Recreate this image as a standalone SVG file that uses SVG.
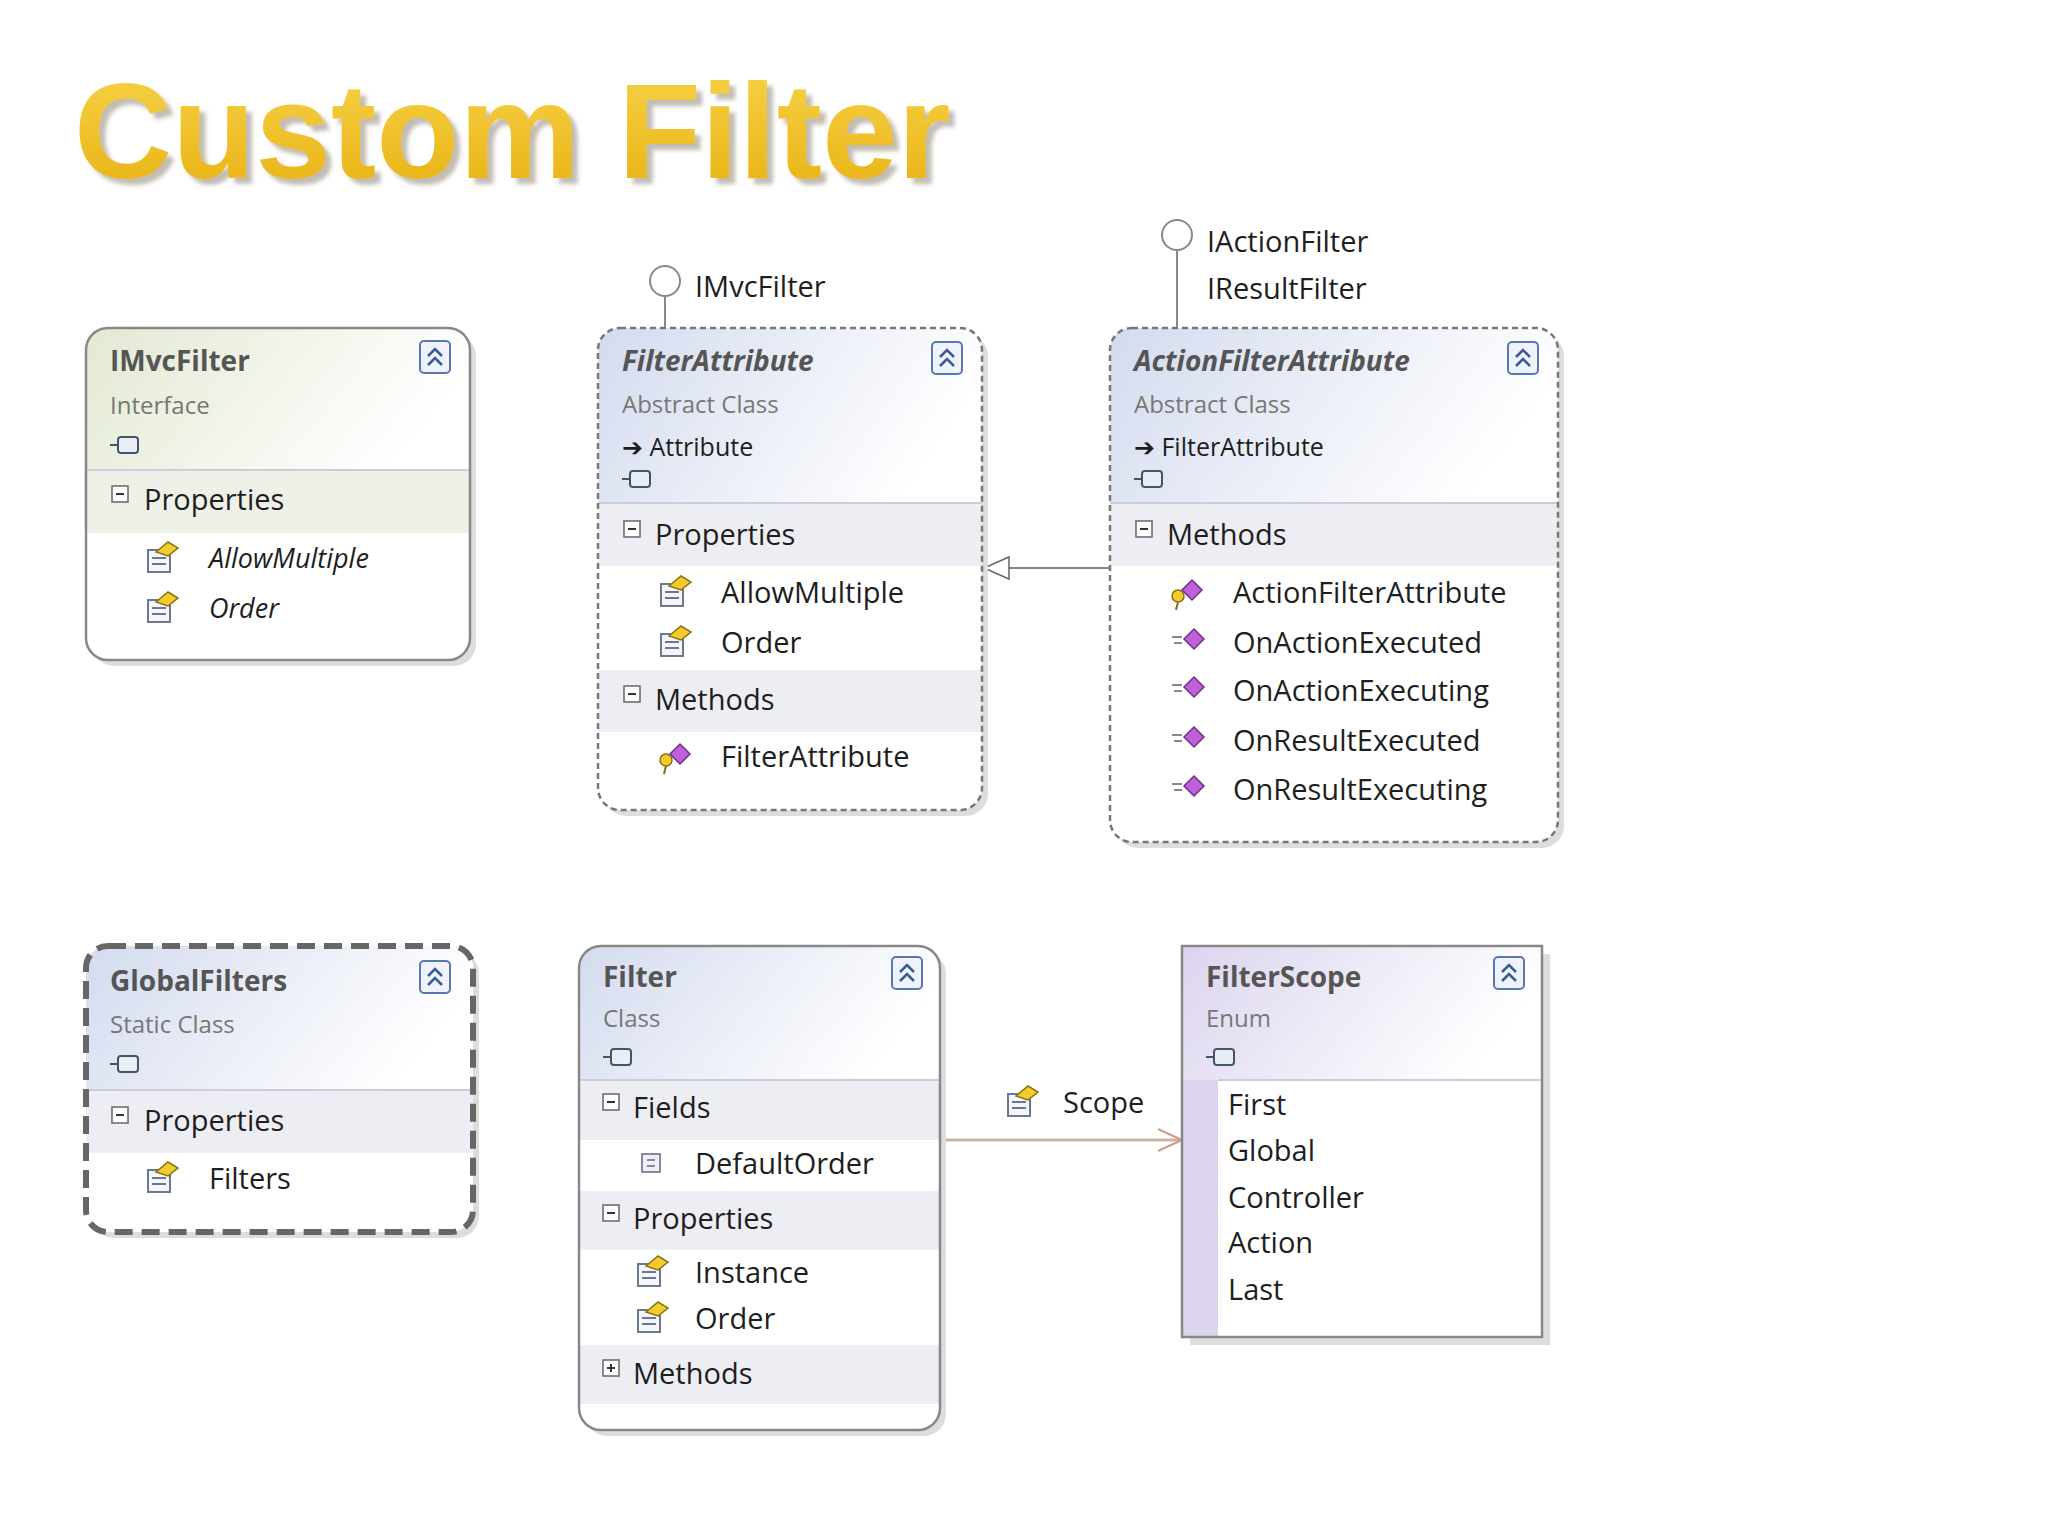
<svg xmlns="http://www.w3.org/2000/svg" width="2048" height="1536" viewBox="0 0 2048 1536">
<defs>
<linearGradient id="gGreen" x1="0" y1="0" x2="1" y2="0.3"><stop offset="0" stop-color="#e2e9d2"/><stop offset="1" stop-color="#ffffff"/></linearGradient>
<linearGradient id="gBlue" x1="0" y1="0" x2="1" y2="0.3"><stop offset="0" stop-color="#d3dbee"/><stop offset="1" stop-color="#ffffff"/></linearGradient>
<linearGradient id="gPurple" x1="0" y1="0" x2="1" y2="0.3"><stop offset="0" stop-color="#dcd4ee"/><stop offset="1" stop-color="#ffffff"/></linearGradient>
<linearGradient id="gTitle" x1="0" y1="0" x2="0" y2="1"><stop offset="0" stop-color="#f7d44a"/><stop offset="1" stop-color="#e8b010"/></linearGradient>
<filter id="tshadow" x="-5%" y="-10%" width="110%" height="130%"><feDropShadow dx="6" dy="6" stdDeviation="2" flood-color="#9a9080" flood-opacity="0.6"/></filter>
<clipPath id="c1"><rect x="86" y="328" width="384" height="332" rx="22"/></clipPath>
<clipPath id="c2"><rect x="598" y="328" width="384" height="482" rx="22"/></clipPath>
<clipPath id="c3"><rect x="1110" y="328" width="448" height="514" rx="22"/></clipPath>
<clipPath id="c4"><rect x="86" y="946" width="387" height="286" rx="22"/></clipPath>
<clipPath id="c5"><rect x="579" y="946" width="361" height="484" rx="22"/></clipPath>
<clipPath id="c6"><rect x="1182" y="946" width="360" height="391"/></clipPath>
<g id="collapse"><rect x="-15" y="-16" width="30" height="32" rx="4" fill="#eef2fa" stroke="#5a78b0" stroke-width="2"/><path d="M-7 -1 L0 -8 L7 -1 M-7 8 L0 1 L7 8" fill="none" stroke="#3a5a98" stroke-width="2.5"/></g>
<g id="type"><rect x="-6" y="-9" width="20" height="16" rx="3" fill="#e8eef6" stroke="#44546a" stroke-width="2"/><line x1="-14" y1="-1" x2="-6" y2="-1" stroke="#44546a" stroke-width="2"/></g>
<g id="prop"><rect x="-14" y="-8" width="22" height="22" fill="#f4f6fb" stroke="#6a7890" stroke-width="2"/><line x1="-10" y1="0" x2="4" y2="0" stroke="#6a7890" stroke-width="2"/><line x1="-10" y1="6" x2="4" y2="6" stroke="#6a7890" stroke-width="2"/><path d="M-6 -6 L6 -16 L16 -10 L6 -2 Z" fill="#f2cc2c" stroke="#8a7010" stroke-width="1.5"/></g>
<g id="meth"><path d="M0 -14 L10 -4 L0 6 L-10 -4 Z" fill="#c060d8" stroke="#70308a" stroke-width="1.5"/><line x1="-22" y1="-6" x2="-12" y2="-6" stroke="#888" stroke-width="2"/><line x1="-20" y1="0" x2="-12" y2="0" stroke="#888" stroke-width="2"/></g>
<g id="ctor"><path d="M4 -14 L14 -4 L4 6 L-6 -4 Z" fill="#c060d8" stroke="#70308a" stroke-width="1.5"/><circle cx="-10" cy="2" r="6" fill="#f2cc2c" stroke="#8a7010" stroke-width="1.5"/><line x1="-10" y1="8" x2="-12" y2="16" stroke="#8a7010" stroke-width="2"/></g>
<g id="minus"><rect x="-8" y="-8" width="16" height="16" fill="#fff" stroke="#666" stroke-width="1.5"/><line x1="-4" y1="0" x2="4" y2="0" stroke="#333" stroke-width="2"/></g>
<g id="plus"><rect x="-8" y="-8" width="16" height="16" fill="#fff" stroke="#666" stroke-width="1.5"/><line x1="-4" y1="0" x2="4" y2="0" stroke="#333" stroke-width="2"/><line x1="0" y1="-4" x2="0" y2="4" stroke="#333" stroke-width="2"/></g>
<g id="field"><rect x="-10" y="-9" width="18" height="18" fill="#eef" stroke="#667" stroke-width="1.5"/><line x1="-5" y1="-3" x2="3" y2="-3" stroke="#667" stroke-width="1.5"/><line x1="-5" y1="3" x2="3" y2="3" stroke="#667" stroke-width="1.5"/></g>
<marker id="tri" markerWidth="30" markerHeight="30" refX="27" refY="13" orient="auto" markerUnits="userSpaceOnUse"><path d="M2 2 L27 13 L2 24 Z" fill="#fff" stroke="#666" stroke-width="1.5"/></marker>
<marker id="open" markerWidth="30" markerHeight="30" refX="26" refY="13" orient="auto" markerUnits="userSpaceOnUse"><path d="M2 2 L26 13 L2 24" fill="none" stroke="#c8a088" stroke-width="2"/></marker>
</defs>
<style>
text{font-family:"Open Sans","DejaVu Sans",sans-serif;fill:#1e1e1e}
.t{font-size:28px;font-weight:bold;fill:#555}
.ti{font-size:28px;font-weight:bold;font-style:italic;fill:#555}
.s{font-size:24px;fill:#777}
.m{font-size:29px}
.mi{font-size:27px;font-style:italic}
.sm{font-size:25px}
.band{fill:#eceef4}
.bandg{fill:#eef1e7}
.box{fill:none;stroke:#888;stroke-width:2.5}
.dash{fill:none;stroke:#777;stroke-width:2.5;stroke-dasharray:6 4}
.shadow{fill:#ddd}
</style>
<rect width="2048" height="1536" fill="#fff"/>
<text x="74" y="178" font-weight="bold" font-size="136" filter="url(#tshadow)" style="font-family:'Liberation Sans',Arial,sans-serif;fill:url(#gTitle)">Custom Filter</text>

<g id="connectors">
<line x1="665" y1="296" x2="665" y2="328" stroke="#888" stroke-width="2"/>
<circle cx="665" cy="281" r="15" fill="#fff" stroke="#888" stroke-width="2"/>
<text x="695" y="297" class="m">IMvcFilter</text>
<line x1="1177" y1="250" x2="1177" y2="328" stroke="#888" stroke-width="2"/>
<circle cx="1177" cy="235" r="15" fill="#fff" stroke="#888" stroke-width="2"/>
<text x="1207" y="252" class="m">IActionFilter</text>
<text x="1207" y="299" class="m">IResultFilter</text>
<line x1="1110" y1="568" x2="984" y2="568" stroke="#888" stroke-width="2" marker-end="url(#tri)"/>
<line x1="942" y1="1140" x2="1182" y2="1140" stroke="#d0b0a0" stroke-width="3" marker-end="url(#open)"/>
<use href="#prop" x="1022" y="1102"/>
<text x="1063" y="1113" class="m">Scope</text>
</g>

<g id="IMvcFilter">
<rect x="92" y="334" width="384" height="332" rx="22" class="shadow"/>
<g clip-path="url(#c1)"><rect x="86" y="328" width="384" height="332" fill="#fff"/><rect x="86" y="328" width="384" height="142" fill="url(#gGreen)"/><rect x="86" y="470" width="384" height="63" class="bandg"/><line x1="86" y1="470" x2="470" y2="470" stroke="#ccd" stroke-width="2"/></g>
<rect x="86" y="328" width="384" height="332" rx="22" class="box"/>
<use href="#collapse" x="435" y="357"/>
<text x="110" y="371" class="t">IMvcFilter</text>
<text x="110" y="414" class="s">Interface</text>
<use href="#type" x="124" y="446"/>
<use href="#minus" x="120" y="494"/>
<text x="144" y="510" class="m">Properties</text>
<use href="#prop" x="162" y="558"/><text x="209" y="568" class="mi">AllowMultiple</text>
<use href="#prop" x="162" y="608"/><text x="209" y="618" class="mi">Order</text>
</g>

<g id="FilterAttribute">
<rect x="604" y="334" width="384" height="482" rx="22" class="shadow"/>
<g clip-path="url(#c2)"><rect x="598" y="328" width="384" height="482" fill="#fff"/><rect x="598" y="328" width="384" height="175" fill="url(#gBlue)"/><rect x="598" y="503" width="384" height="63" class="band"/><rect x="598" y="670" width="384" height="62" class="band"/><line x1="598" y1="503" x2="982" y2="503" stroke="#ccd" stroke-width="2"/></g>
<rect x="598" y="328" width="384" height="482" rx="22" class="dash"/>
<use href="#collapse" x="947" y="358"/>
<text x="622" y="371" class="ti">FilterAttribute</text>
<text x="622" y="413" class="s">Abstract Class</text>
<text x="622" y="456" class="sm">➔ Attribute</text>
<use href="#type" x="636" y="480"/>
<use href="#minus" x="632" y="529"/>
<text x="655" y="545" class="m">Properties</text>
<use href="#prop" x="675" y="592"/><text x="721" y="603" class="m">AllowMultiple</text>
<use href="#prop" x="675" y="642"/><text x="721" y="653" class="m">Order</text>
<use href="#minus" x="632" y="694"/>
<text x="655" y="710" class="m">Methods</text>
<use href="#ctor" x="676" y="758"/><text x="721" y="767" class="m">FilterAttribute</text>
</g>

<g id="ActionFilterAttribute">
<rect x="1116" y="334" width="448" height="514" rx="22" class="shadow"/>
<g clip-path="url(#c3)"><rect x="1110" y="328" width="448" height="514" fill="#fff"/><rect x="1110" y="328" width="448" height="175" fill="url(#gBlue)"/><rect x="1110" y="503" width="448" height="63" class="band"/><line x1="1110" y1="503" x2="1558" y2="503" stroke="#ccd" stroke-width="2"/></g>
<rect x="1110" y="328" width="448" height="514" rx="22" class="dash"/>
<use href="#collapse" x="1523" y="358"/>
<text x="1134" y="371" class="ti">ActionFilterAttribute</text>
<text x="1134" y="413" class="s">Abstract Class</text>
<text x="1134" y="456" class="sm">➔ FilterAttribute</text>
<use href="#type" x="1148" y="480"/>
<use href="#minus" x="1144" y="529"/>
<text x="1167" y="545" class="m">Methods</text>
<use href="#ctor" x="1188" y="594"/><text x="1233" y="603" class="m">ActionFilterAttribute</text>
<use href="#meth" x="1194" y="643"/><text x="1233" y="653" class="m">OnActionExecuted</text>
<use href="#meth" x="1194" y="691"/><text x="1233" y="701" class="m">OnActionExecuting</text>
<use href="#meth" x="1194" y="741"/><text x="1233" y="751" class="m">OnResultExecuted</text>
<use href="#meth" x="1194" y="790"/><text x="1233" y="800" class="m">OnResultExecuting</text>
</g>

<g id="GlobalFilters">
<rect x="92" y="952" width="387" height="286" rx="22" class="shadow"/>
<g clip-path="url(#c4)"><rect x="86" y="946" width="387" height="286" fill="#fff"/><rect x="86" y="946" width="387" height="144" fill="url(#gBlue)"/><rect x="86" y="1090" width="387" height="63" class="band"/><line x1="86" y1="1090" x2="473" y2="1090" stroke="#ccd" stroke-width="2"/></g>
<rect x="86" y="946" width="387" height="286" rx="22" fill="none" stroke="#666" stroke-width="6" stroke-dasharray="18 9"/>
<use href="#collapse" x="435" y="977"/>
<text x="110" y="991" class="t">GlobalFilters</text>
<text x="110" y="1033" class="s">Static Class</text>
<use href="#type" x="124" y="1065"/>
<use href="#minus" x="120" y="1115"/>
<text x="144" y="1131" class="m">Properties</text>
<use href="#prop" x="162" y="1178"/><text x="209" y="1189" class="m">Filters</text>
</g>

<g id="Filter">
<rect x="585" y="952" width="361" height="484" rx="22" class="shadow"/>
<g clip-path="url(#c5)"><rect x="579" y="946" width="361" height="484" fill="#fff"/><rect x="579" y="946" width="361" height="134" fill="url(#gBlue)"/><rect x="579" y="1080" width="361" height="60" class="band"/><rect x="579" y="1191" width="361" height="59" class="band"/><rect x="579" y="1345" width="361" height="59" class="band"/><line x1="579" y1="1080" x2="940" y2="1080" stroke="#ccd" stroke-width="2"/></g>
<rect x="579" y="946" width="361" height="484" rx="22" class="box"/>
<use href="#collapse" x="907" y="973"/>
<text x="603" y="987" class="t">Filter</text>
<text x="603" y="1027" class="s">Class</text>
<use href="#type" x="617" y="1058"/>
<use href="#minus" x="611" y="1102"/>
<text x="633" y="1118" class="m">Fields</text>
<use href="#field" x="652" y="1163"/><text x="695" y="1174" class="m">DefaultOrder</text>
<use href="#minus" x="611" y="1213"/>
<text x="633" y="1229" class="m">Properties</text>
<use href="#prop" x="652" y="1272"/><text x="695" y="1283" class="m">Instance</text>
<use href="#prop" x="652" y="1318"/><text x="695" y="1329" class="m">Order</text>
<use href="#plus" x="611" y="1368"/>
<text x="633" y="1384" class="m">Methods</text>
</g>

<g id="FilterScope">
<rect x="1190" y="954" width="360" height="391" class="shadow"/>
<g clip-path="url(#c6)"><rect x="1182" y="946" width="360" height="391" fill="#fff"/><rect x="1182" y="946" width="360" height="134" fill="url(#gPurple)"/><rect x="1182" y="1080" width="36" height="257" fill="#dcd4ee"/><line x1="1218" y1="1080" x2="1542" y2="1080" stroke="#ccd" stroke-width="2"/></g>
<rect x="1182" y="946" width="360" height="391" class="box"/>
<use href="#collapse" x="1509" y="973"/>
<text x="1206" y="987" class="t">FilterScope</text>
<text x="1206" y="1027" class="s">Enum</text>
<use href="#type" x="1220" y="1058"/>
<text x="1228" y="1115" class="m">First</text>
<text x="1228" y="1161" class="m">Global</text>
<text x="1228" y="1208" class="m">Controller</text>
<text x="1228" y="1253" class="m">Action</text>
<text x="1228" y="1300" class="m">Last</text>
</g>
</svg>
